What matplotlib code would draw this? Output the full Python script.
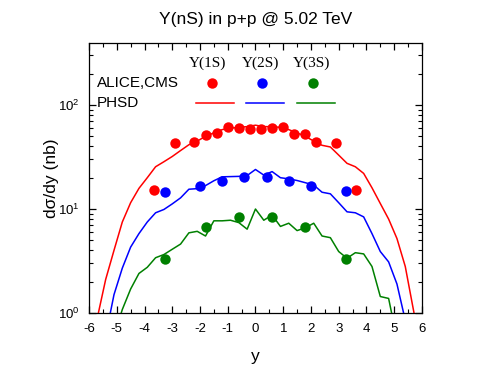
import numpy as np
import matplotlib.pyplot as plt
from matplotlib.ticker import MultipleLocator, LogLocator, NullFormatter

#%% Data
# PHSD curves, sampled every 0.3 in rapidity
y_1s = [-6.0, -5.7, -5.4, -5.1, -4.8, -4.5, -4.2, -3.9, -3.6, -3.3, -3.0, -2.7, -2.4, -2.1,
        -1.8, -1.5, -1.2, -0.9, -0.6, -0.3, 0.0, 0.3, 0.6, 0.9, 1.2, 1.5, 1.8, 2.1,
        2.4, 2.7, 3.0, 3.3, 3.6, 3.9, 4.2, 4.5, 4.8, 5.1, 5.4, 5.7, 6.0]
phsd_1s = [0.4, 0.9, 2.1, 4.0, 7.5, 11.5, 15.8, 20.0, 25.5, 28.5, 32.0, 36.5, 41.5, 45.0,
           50.0, 54.0, 58.0, 60.0, 61.0, 62.0, 64.0, 62.0, 62.0, 61.0, 58.0, 54.0, 50.0, 45.0,
           41.0, 39.5, 33.0, 27.5, 25.5, 22.0, 16.0, 11.3, 8.0, 5.2, 2.8, 1.05, 0.4]

y_2s = [-5.7, -5.4, -5.1, -4.8, -4.5, -4.2, -3.9, -3.6, -3.3, -3.0, -2.7, -2.4, -2.1,
        -1.8, -1.5, -1.2, -0.9, -0.6, -0.3, 0.0, 0.3, 0.6, 0.9, 1.2, 1.5, 1.8, 2.1,
        2.4, 2.7, 3.0, 3.3, 3.6, 3.9, 4.2, 4.5, 4.8, 5.1, 5.4, 5.7]
phsd_2s = [0.3, 0.6, 1.5, 2.7, 4.3, 5.8, 7.5, 9.2, 9.9, 11.2, 12.8, 15.5, 15.7,
           16.8, 18.7, 20.4, 20.5, 20.6, 21.0, 24.0, 21.2, 22.9, 20.0, 19.5, 18.8, 17.9, 17.0,
           14.5, 14.0, 11.5, 9.4, 9.2, 8.4, 5.8, 3.9, 3.1, 1.9, 0.85, 0.3]

y_3s = [-5.4, -5.1, -4.8, -4.5, -4.2, -3.9, -3.6, -3.3, -3.0, -2.7, -2.4, -2.1,
        -1.8, -1.5, -1.2, -0.9, -0.6, -0.3, 0.0, 0.3, 0.6, 0.9, 1.2, 1.5, 1.8, 2.1,
        2.4, 2.7, 3.0, 3.3, 3.6, 3.9, 4.2, 4.5, 4.8, 5.1, 5.4]
phsd_3s = [0.3, 0.6, 1.08, 1.7, 2.4, 2.75, 3.4, 3.65, 4.1, 4.6, 5.9, 6.1,
           5.5, 7.7, 7.7, 7.8, 7.4, 6.4, 10.0, 7.8, 8.75, 6.8, 7.3, 6.2, 6.6, 7.3,
           5.5, 5.3, 3.9, 3.36, 3.8, 3.7, 2.8, 1.44, 1.38, 0.56, 0.3]

# ALICE, CMS data
dat_y_1s = [-3.65, -2.9, -2.2, -1.8, -1.4, -1.0, -0.6, -0.2, 0.2, 0.6, 1.0, 1.4, 1.8, 2.2, 2.9, 3.62]
dat_1s = [15.2, 43.5, 44.5, 52.0, 53.4, 61.0, 59.7, 58.4, 58.4, 60.1, 61.4, 53.0, 52.3, 44.5, 43.5, 15.2]
dat_y_2s = [-3.27, -2.0, -1.2, -0.4, 0.4, 1.2, 2.0, 3.25]
dat_2s = [14.7, 16.6, 18.6, 20.3, 20.3, 18.6, 16.6, 14.9]
dat_y_3s = [-3.27, -1.8, -0.6, 0.6, 1.8, 3.25]
dat_3s = [3.28, 6.76, 8.43, 8.43, 6.76, 3.28]

#%% Plot
plt.rcParams['font.family'] = ['Liberation Sans', 'DejaVu Sans']
plt.rcParams['axes.unicode_minus'] = False
fig = plt.figure(figsize=(4.91, 3.76), dpi=100)
ax = fig.add_axes([0.1813, 0.1676, 0.678, 0.718])

ax.plot(y_1s, phsd_1s, '-', color='red', lw=1.1)
ax.plot(y_2s, phsd_2s, '-', color='blue', lw=1.1)
ax.plot(y_3s, phsd_3s, '-', color='green', lw=1.1)
ax.plot(dat_y_1s, dat_1s, 'o', color='red', ms=7.5, mec='none')
ax.plot(dat_y_2s, dat_2s, 'o', color='blue', ms=7.5, mec='none')
ax.plot(dat_y_3s, dat_3s, 'o', color='green', ms=7.5, mec='none')

ax.set_yscale('log')
ax.set_xlim(-6, 6)
ax.set_ylim(1, 395)
ax.xaxis.set_major_locator(MultipleLocator(1))
ax.xaxis.set_minor_locator(MultipleLocator(0.5))
ax.yaxis.set_major_locator(LogLocator(base=10, numticks=10))
ax.yaxis.set_minor_locator(LogLocator(base=10, subs=np.arange(2, 10), numticks=10))
ax.yaxis.set_minor_formatter(NullFormatter())
ax.tick_params(which='both', direction='in', top=True, right=True, labelsize=9.5)
ax.tick_params(which='major', length=5, width=0.9)
ax.tick_params(which='minor', length=3, width=0.8)
ax.tick_params(axis='x', which='major', pad=7)
ax.tick_params(axis='y', which='major', pad=7)
for s in ax.spines.values():
    s.set_linewidth(0.9)

ax.set_xlabel('y', fontsize=12.5, labelpad=10)
ax.set_ylabel('d\u03c3/dy (nb)', fontsize=12.5, labelpad=-1)
ax.set_title('\u03a5(nS) in p+p @ 5.02 TeV', fontsize=12.5, pad=14)

# legend block
tr = ax.transAxes
for xc, lab in zip([0.357, 0.516, 0.670], ['\u03a5(1S)', '\u03a5(2S)', '\u03a5(3S)']):
    ax.text(xc, 0.926, lab, transform=tr, ha='center', va='center', fontsize=11,
            family=['Liberation Serif', 'DejaVu Serif'])
ax.text(0.023, 0.851, 'ALICE,CMS', transform=tr, ha='left', va='center', fontsize=11)
ax.text(0.023, 0.777, 'PHSD', transform=tr, ha='left', va='center', fontsize=11)
for xm, (x0, x1), c in zip([0.368, 0.520, 0.672],
                           [(0.321, 0.435), (0.471, 0.586), (0.625, 0.739)],
                           ['red', 'blue', 'green']):
    ax.plot([xm], [0.851], 'o', color=c, ms=7.5, mec='none', transform=tr)
    ax.plot([x0, x1], [0.777, 0.777], '-', color=c, lw=1.1, transform=tr)

fig.savefig('out.png', dpi=100)
